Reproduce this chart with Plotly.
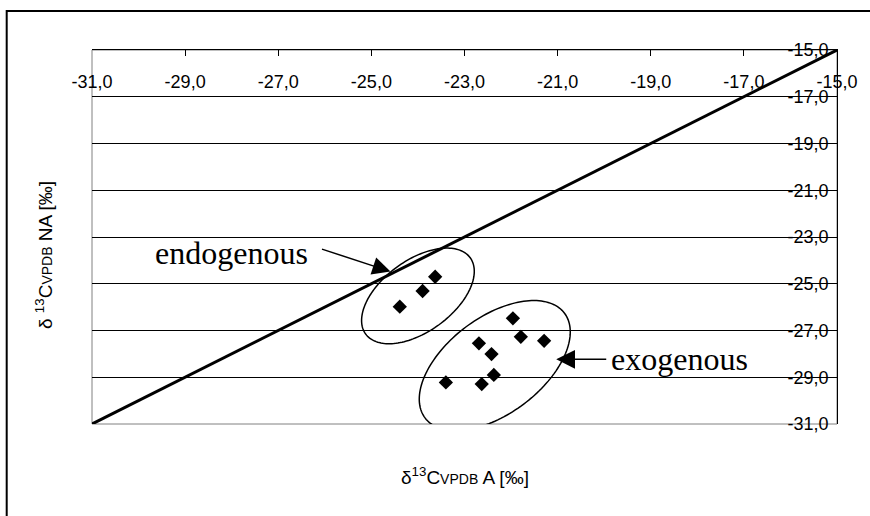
import math
import plotly.graph_objects as go

# delta13C (VPDB) of the A and NA fractions, per sample
endo_a = [-24.39, -23.90, -23.63]
endo_na = [-25.98, -25.31, -24.70]
exo_a = [-21.96, -21.79, -21.29, -22.69, -22.42, -22.37, -22.63, -23.40]
exo_na = [-26.48, -27.27, -27.44, -27.55, -28.01, -28.90, -29.29, -29.22]

# 1:1 reference line
line_a = [-31.0, -15.0]
line_na = [-31.0, -15.0]

tick_vals = [-31, -29, -27, -25, -23, -21, -19, -17, -15]
tick_text = [f"{v:.1f}".replace(".", ",") for v in tick_vals]

# group outlines: centre (data units), semi-axes (px), tilt (deg)
endo_ellipse = dict(cx=-24.00, cy=-25.52, a=64.7, b=35.7, ang=36.1)
exo_ellipse = dict(cx=-22.35, cy=-28.50, a=87.2, b=48.2, ang=36.9)

W, H = 870, 516
L, R, T, B = 92, 33, 50, 92
PW, PH = W - L - R, H - T - B
X0, X1, Y0, Y1 = -31.0, -15.0, -31.0, -15.0
SX = PW / (X1 - X0)
SY = PH / (Y1 - Y0)


def ellipse_path(e, n=160):
    th = math.radians(e["ang"])
    pts = []
    for i in range(n):
        t = 2 * math.pi * i / n
        dx = e["a"] * math.cos(t) * math.cos(th) - e["b"] * math.sin(t) * math.sin(th)
        dy = e["a"] * math.cos(t) * math.sin(th) + e["b"] * math.sin(t) * math.cos(th)
        pts.append((e["cx"] + dx / SX, e["cy"] + dy / SY))
    return "M " + " L ".join(f"{x:.4f},{y:.4f}" for x, y in pts) + " Z"


TICK_FONT = dict(family="Liberation Sans, Arial, sans-serif", size=18, color="black")
TITLE_FONT = dict(family="Liberation Sans, Arial, sans-serif", size=19, color="black")
LBL_FONT = dict(family="Liberation Serif, Times New Roman, serif", size=32, color="black")

fig = go.Figure()
fig.add_trace(go.Scatter(x=line_a, y=line_na, mode="lines",
                         line=dict(color="black", width=3), showlegend=False))
fig.add_trace(go.Scatter(x=endo_a + exo_a, y=endo_na + exo_na, mode="markers",
                         marker=dict(symbol="diamond", size=11, color="black"),
                         showlegend=False))

shapes = [
    # plot area border
    dict(type="rect", xref="paper", yref="paper", x0=0, x1=1, y0=0, y1=1,
         line=dict(color="#808080", width=1), layer="below"),
    # chart frame
    dict(type="rect", xref="paper", yref="paper",
         x0=(6.7 - L) / PW, x1=(W + 20 - L) / PW,
         y0=(H - B - (H + 20)) / PH, y1=(H - B - 11) / PH,
         line=dict(color="black", width=2)),
    dict(type="path", xref="x", yref="y", path=ellipse_path(endo_ellipse),
         line=dict(color="black", width=1.5)),
    dict(type="path", xref="x", yref="y", path=ellipse_path(exo_ellipse),
         line=dict(color="black", width=1.5)),
]

annotations = [
    # group labels
    dict(text="endogenous", x=-28.01, y=-23.68, xref="x", yref="y",
         showarrow=False, font=LBL_FONT, xanchor="center", yanchor="middle"),
    dict(text="", x=-24.59, y=-24.48, xref="x", yref="y", showarrow=True,
         ax=-70, ay=-23, arrowhead=2, arrowsize=2.4, arrowwidth=1.5, arrowcolor="black"),
    dict(text="exogenous", x=-21.03, y=-28.23, xref="x", yref="y",
         showarrow=True, ax=123, ay=0, font=LBL_FONT,
         arrowhead=2, arrowsize=2.5, arrowwidth=1.5, arrowcolor="black", borderpad=4),
    # axis titles
    dict(text="δ<sup>13</sup>C<span style='font-size:14px'>VPDB</span> A [‰]",
         xref="paper", yref="paper", x=0.5, y=(H - B - 476) / PH,
         showarrow=False, font=TITLE_FONT, xanchor="center", yanchor="middle"),
    dict(text="δ <sup>13</sup>C<span style='font-size:14px'>VPDB</span> NA [‰]",
         xref="paper", yref="paper", x=(44 - L) / PW, y=(H - B - 255) / PH,
         showarrow=False, font=TITLE_FONT, textangle=-90,
         xanchor="center", yanchor="middle"),
]

fig.update_layout(
    width=W, height=H,
    margin=dict(l=L, r=R, t=T, b=B),
    paper_bgcolor="white", plot_bgcolor="white",
    shapes=shapes, annotations=annotations,
    font=TICK_FONT,
    xaxis=dict(range=[X0, X1], side="top", tickvals=tick_vals, ticktext=tick_text,
               showgrid=False, zeroline=False, showline=True, linecolor="black",
               linewidth=1, ticks="inside", ticklen=6, tickcolor="black",
               ticklabelposition="inside", ticklabelstandoff=20,
               ticklabeloverflow="allow", tickfont=TICK_FONT),
    yaxis=dict(range=[Y0, Y1], side="right", tickvals=tick_vals, ticktext=tick_text,
               showgrid=True, gridcolor="black", gridwidth=1, zeroline=False,
               showline=True, linecolor="black", linewidth=1,
               ticks="inside", ticklen=5, tickcolor="black",
               ticklabelposition="inside", ticklabelstandoff=4,
               ticklabeloverflow="allow", tickfont=TICK_FONT),
)

fig.write_html("out.html")
